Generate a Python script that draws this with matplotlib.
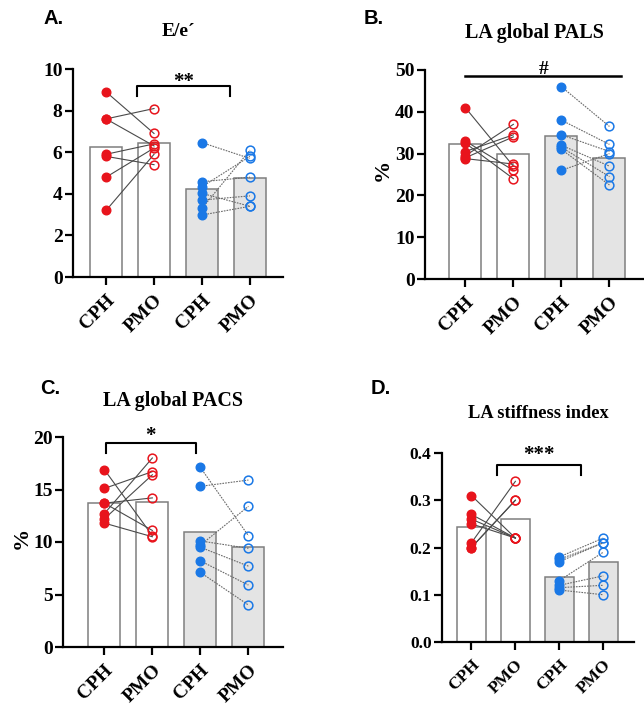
import matplotlib
matplotlib.use("Agg")
import matplotlib.pyplot as plt
import numpy as np

plt.rcParams['font.family'] = ['Liberation Serif', 'DejaVu Serif']
plt.rcParams['font.weight'] = 'bold'

groups = ["CPH", "PMO", "CPH", "PMO"]
RED = "#e8141c"
BLUE = "#1a78e6"

# ---------- data ----------
# Panel A: E/e'
a_red_cph = [8.9, 7.6, 7.6, 5.9, 5.8, 4.8, 3.2]
a_red_pmo = [6.9, 8.1, 6.3, 6.4, 5.4, 6.2, 5.9]
a_blue_cph = [6.46, 4.58, 4.34, 4.02, 3.70, 3.30, 2.98]
a_blue_pmo = [5.7, 4.8, 5.8, 3.4, 3.9, 6.1, 3.4]
a_bars = [6.24, 6.45, 4.22, 4.74]

# Panel B: LA global PALS
b_red_cph = [41.0, 33.0, 32.5, 30.5, 29.5, 29.0, 28.8]
b_red_pmo = [27.0, 26.0, 24.0, 34.5, 37.0, 34.0, 27.5]
b_blue_cph = [46.0, 38.0, 34.5, 32.0, 31.5, 31.0, 26.0]
b_blue_pmo = [36.5, 32.2, 30.5, 27.0, 24.5, 22.5, 30.0]
b_bars = [32.2, 29.9, 34.1, 28.9]

# Panel C: LA global PACS
c_red_cph = [16.9, 15.1, 13.7, 13.7, 12.7, 12.2, 11.8]
c_red_pmo = [10.6, 16.7, 14.2, 11.1, 18.0, 16.4, 10.5]
c_blue_cph = [17.1, 15.3, 10.1, 9.7, 9.5, 8.2, 7.1]
c_blue_pmo = [10.6, 15.9, 9.4, 13.4, 7.7, 5.9, 4.0]
c_bars = [13.7, 13.85, 10.95, 9.5]

# Panel D: LA stiffness index
d_red_cph = [0.31, 0.27, 0.26, 0.25, 0.21, 0.20, 0.20]
d_red_pmo = [0.22, 0.22, 0.22, 0.22, 0.34, 0.30, 0.30]
d_blue_cph = [0.18, 0.175, 0.17, 0.13, 0.12, 0.115, 0.11]
d_blue_pmo = [0.22, 0.21, 0.21, 0.19, 0.14, 0.12, 0.10]
d_bars = [0.243, 0.26, 0.137, 0.17]

panels = [
    dict(label="A.", title="E/e\u00b4", red=(a_red_cph, a_red_pmo), blue=(a_blue_cph, a_blue_pmo),
         bars=a_bars, ylim=(0, 10), yticks=[0, 2, 4, 6, 8, 10], yfmt="{:.0f}", ylabel=None,
         rect=[73, 69, 283, 277], xlim=(-0.69, 3.69), tsize=14, title_size=14,
         sig=dict(kind="bracket", x0=0.65, x1=2.58, y=9.2, drop=0.5, text="**", ty=9.87),
         lab_xy=(44, 18), title_y=32, ylab_x=None),
    dict(label="B.", title="LA global PALS", red=(b_red_cph, b_red_pmo), blue=(b_blue_cph, b_blue_pmo),
         bars=b_bars, ylim=(0, 50), yticks=[0, 10, 20, 30, 40, 50], yfmt="{:.0f}", ylabel="%",
         rect=[425, 70, 644, 279], xlim=(-0.84, 3.72), tsize=14, title_size=14.4,
         sig=dict(kind="line", x0=0.0, x1=3.25, y=48.6, drop=0, text="#", ty=52.2),
         lab_xy=(364, 18), title_y=33, ylab_x=-0.145),
    dict(label="C.", title="LA global PACS", red=(c_red_cph, c_red_pmo), blue=(c_blue_cph, c_blue_pmo),
         bars=c_bars, ylim=(0, 20), yticks=[0, 5, 10, 15, 20], yfmt="{:.0f}", ylabel="%",
         rect=[63, 437, 283, 647], xlim=(-0.86, 3.72), tsize=14, title_size=14.4,
         sig=dict(kind="bracket", x0=0.03, x1=1.9, y=19.45, drop=0.95, text="*", ty=21.08),
         lab_xy=(40, 388), title_y=401, ylab_x=-0.143),
    dict(label="D.", title="LA stiffness index", red=(d_red_cph, d_red_pmo), blue=(d_blue_cph, d_blue_pmo),
         bars=d_bars, ylim=(0, 0.4), yticks=[0.0, 0.1, 0.2, 0.3, 0.4], yfmt="{:.1f}", ylabel=None,
         rect=[442, 453, 634, 642], xlim=(-0.67, 3.70), tsize=12.5, title_size=13.2,
         sig=dict(kind="bracket", x0=0.59, x1=2.5, y=0.375, drop=0.021, text="***", ty=0.416),
         lab_xy=(371, 388), title_y=414, ylab_x=None),
]

W, H = 644, 716
fig = plt.figure(figsize=(W / 100, H / 100), dpi=100)

x = np.arange(4)
for p in panels:
    l, t, r, b = p["rect"]
    ax = fig.add_axes([l / W, (H - b) / H, (r - l) / W, (b - t) / H])
    colors = ["white", "white", "#e4e4e4", "#e4e4e4"]
    ax.bar(x, p["bars"], width=0.667, color=colors, edgecolor="#7f7f7f", linewidth=1.1, zorder=1)
    # paired lines
    for (c0, c1), col, ls, lw in [(p["red"], RED, "-", 0.8), (p["blue"], BLUE, (0, (1.5, 1.0)), 0.8)]:
        xs = (0, 1) if col == RED else (2, 3)
        for v0, v1 in zip(c0, c1):
            ax.plot(xs, [v0, v1], color="#4a4a4a" if col == RED else "#6a6a6a", ls=ls, lw=lw, zorder=3)
        ax.plot([xs[0]] * len(c0), c0, "o", ms=6.2, color=col, mec=col, zorder=4)
        ax.plot([xs[1]] * len(c1), c1, "o", ms=6.3, mfc="none", mec=col, mew=1.1, zorder=4)
    ax.set_xlim(*p["xlim"])
    ax.set_ylim(*p["ylim"])
    ax.set_yticks(p["yticks"])
    ax.set_yticklabels([p["yfmt"].format(v) for v in p["yticks"]], fontsize=p["tsize"], fontweight="bold")
    ax.set_xticks(x)
    ax.set_xticklabels(groups, rotation=45, ha="right", va="top", rotation_mode="anchor",
                       fontsize=p["tsize"], fontweight="bold")
    for s in ["top", "right"]:
        ax.spines[s].set_visible(False)
    for s in ["left", "bottom"]:
        ax.spines[s].set_linewidth(1.6)
    ax.tick_params(width=1.6, length=5.5, pad=2)
    ax.tick_params(axis="x", pad=5)
    ax.patch.set_alpha(0)
    if p["ylabel"]:
        ax.set_ylabel(p["ylabel"], fontsize=16, fontweight="bold")
        ax.yaxis.set_label_coords(p["ylab_x"], 0.52)
    sg = p["sig"]
    if sg["kind"] == "bracket":
        ax.plot([sg["x0"], sg["x0"], sg["x1"], sg["x1"]],
                [sg["y"] - sg["drop"], sg["y"], sg["y"], sg["y"] - sg["drop"]],
                color="black", lw=1.5, clip_on=False, zorder=5)
    else:
        ax.plot([sg["x0"], sg["x1"]], [sg["y"], sg["y"]], color="black", lw=1.8, clip_on=False, zorder=5)
    ax.text((sg["x0"] + sg["x1"]) / 2, sg["ty"], sg["text"],
            ha="center", va="top", fontsize=15 if sg["text"] != "#" else 14,
            fontweight="bold", clip_on=False)
    fig.text((l + r) / 2 / W, 1 - p["title_y"] / H, p["title"], ha="center", va="center",
             fontsize=p["title_size"], fontweight="bold")
    fig.text(p["lab_xy"][0] / W, 1 - p["lab_xy"][1] / H, p["label"], ha="left", va="center",
             fontsize=14.5, fontweight="bold", family=["Liberation Sans", "DejaVu Sans"])

fig.savefig("out.png", dpi=100)
